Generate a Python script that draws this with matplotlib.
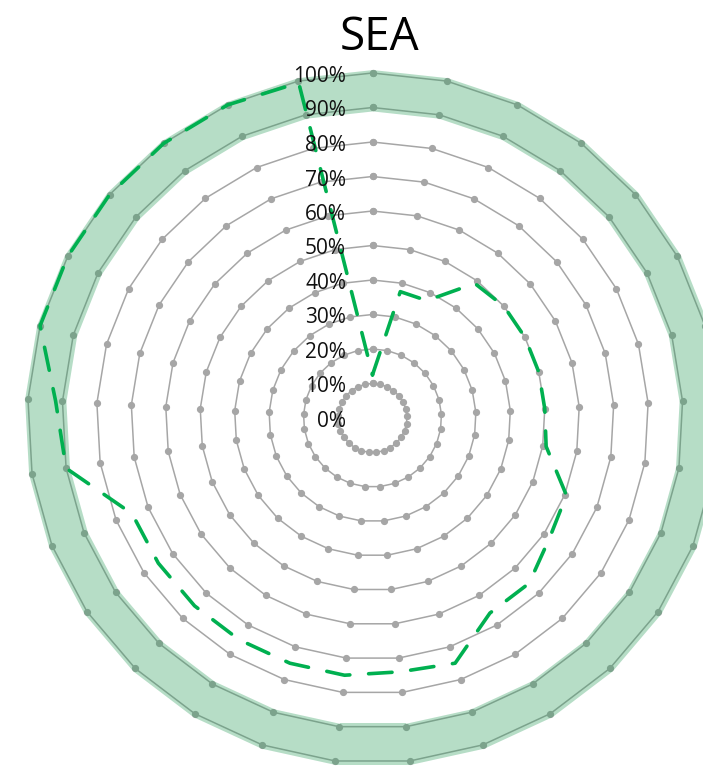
import numpy as np
import matplotlib
matplotlib.use('Agg')
import matplotlib.pyplot as plt
from matplotlib.transforms import ScaledTranslation

# 29 spokes, first one at 12 o'clock, running clockwise
N_CAT = 29
sea_pct = [12.5, 37.5, 37.5, 49, 50, 50, 50, 50, 51, 60.5,
           62, 66, 66, 75, 74, 75, 75, 75, 75, 75,
           75, 90, 92, 100, 100, 100, 100, 100, 99.5]
ring_pct = [10, 20, 30, 40, 50, 60, 70, 80, 90, 100]
tick_pct = [0, 10, 20, 30, 40, 50, 60, 70, 80, 90, 100]
tick_labels = [f'{v}%' for v in tick_pct]
band_lo, band_hi = 89, 101

theta = np.linspace(0, 2 * np.pi, N_CAT, endpoint=False)
theta_c = np.append(theta, theta[0])

W, H, DPI = 703, 769, 100
cx, cy = 372.5, 418          # chart centre, px from top-left
px_per_pct = 3.45
rmax = 105
R = rmax * px_per_pct

plt.rcParams['font.family'] = ['Open Sans', 'DejaVu Sans']
fig = plt.figure(figsize=(W / DPI, H / DPI), dpi=DPI)
ax = fig.add_axes([(cx - R) / W, (H - cy - R) / H, 2 * R / W, 2 * R / H],
                  projection='polar')
ax.set_theta_zero_location('N')
ax.set_theta_direction(-1)
ax.set_ylim(0, rmax)
ax.set_xticks([])
ax.set_yticks([])
ax.grid(False)
ax.spines['polar'].set_visible(False)
ax.patch.set_alpha(0)

# concentric reference rings with markers
for v in ring_pct:
    ax.plot(theta_c, [v] * len(theta_c), color='#a6a6a6', lw=1.1,
            marker='o', ms=4.2, mfc='#a6a6a6', mec='#a6a6a6', zorder=2)

# target band
ax.fill_between(theta_c, band_lo, band_hi, color='#2e9e5e', alpha=0.35,
                lw=0, zorder=3)

vals_c = np.append(sea_pct, sea_pct[0])
ax.plot(theta_c, vals_c, color='#00b050', lw=2.6, ls=(0, (6.5, 5.2)),
        dash_capstyle='round', zorder=5)

# value labels along the vertical axis
for v, lab in zip(tick_pct, tick_labels):
    off = ScaledTranslation(-26.5 / DPI, -9 / DPI, fig.dpi_scale_trans)
    ax.text(0, v, lab, transform=ax.transData + off, ha='right',
            va='baseline', fontsize=15, color='#111111', zorder=6)

fig.text(380 / W, 1 - 50 / H, 'SEA', ha='center', va='baseline',
         fontsize=33, color='black')

fig.savefig('out.png', dpi=DPI)
